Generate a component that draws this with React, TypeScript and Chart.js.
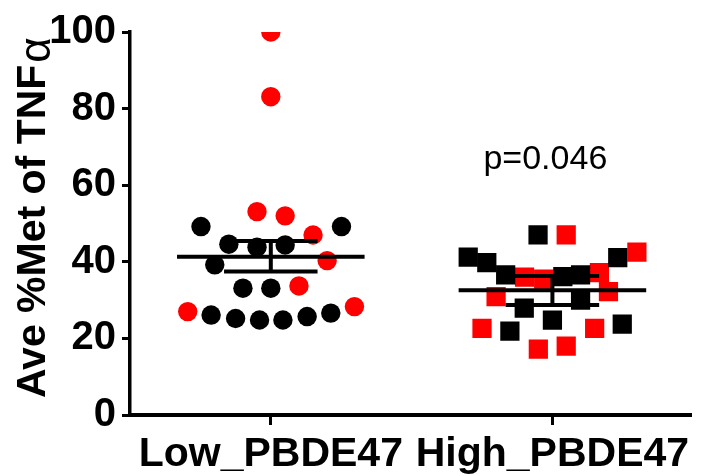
import { useEffect, useRef } from "react";
import { Chart, registerables } from "chart.js";

Chart.register(...registerables);

const categories = ["Low_PBDE47", "High_PBDE47"];
const yTickValues = [0, 20, 40, 60, 80, 100];

// Low group (circles)
const lowRedValues = [100, 83.1, 53.1, 52.0, 47.0, 40.3, 33.7, 27.0, 28.3];
const lowRedOffsets = [0, 0, -0.049, 0.051, 0.150, 0.200, 0.100, -0.295, 0.297];
const lowBlackValues = [49.2, 49.2, 44.6, 43.8, 44.4, 39.2, 33.1, 33.1, 26.1, 25.2, 24.8, 24.8, 25.7, 26.6];
const lowBlackOffsets = [-0.248, 0.251, -0.149, -0.049, 0.051, -0.199, -0.099, 0, -0.212, -0.125, -0.040, 0.043, 0.129, 0.213];

// High group (squares)
const highBlackValues = [47.0, 41.2, 39.8, 36.6, 36.1, 36.6, 41.1, 27.9, 30.0, 24.8, 21.9, 23.7];
const highBlackOffsets = [-0.051, -0.299, -0.233, -0.166, 0.037, 0.100, 0.232, -0.100, 0.100, 0, -0.151, 0.248];
const highRedValues = [47.0, 36.0, 35.5, 37.2, 42.5, 30.9, 32.2, 22.6, 22.6, 17.2, 18.0];
const highRedOffsets = [0.049, -0.099, -0.031, 0.167, 0.300, -0.200, 0.199, -0.250, 0.150, -0.050, 0.049];

// Mean and error bars per group
const groupMeans = [41.3, 32.6];
const groupUpper = [45.4, 36.3];
const groupLower = [37.5, 28.7];

const pValueText = "p=0.046";
const pValueX = 1.975;
const pValueY = 64.2;

const yTitleMain = "Ave %Met of TNF";
const yTitleSub = "α";

const FONT = "'Liberation Sans', Arial, Helvetica, sans-serif";

function toPoints(groupIndex: number, values: number[], offsets: number[]) {
  return values.map((v, i) => ({ x: groupIndex + 1 + offsets[i], y: v }));
}

const overlayPlugin = {
  id: "overlay",
  afterDatasetsDraw(chart: any) {
    const { ctx, scales } = chart;
    const xs = scales.x;
    const ys = scales.y;
    ctx.save();
    ctx.strokeStyle = "#000";
    ctx.lineWidth = 4;
    ctx.lineCap = "butt";
    groupMeans.forEach((m, i) => {
      const c = i + 1;
      const yM = ys.getPixelForValue(m);
      const yU = ys.getPixelForValue(groupUpper[i]);
      const yL = ys.getPixelForValue(groupLower[i]);
      ctx.beginPath();
      ctx.moveTo(xs.getPixelForValue(c - 0.333), yM);
      ctx.lineTo(xs.getPixelForValue(c + 0.333), yM);
      ctx.moveTo(xs.getPixelForValue(c - 0.166), yU);
      ctx.lineTo(xs.getPixelForValue(c + 0.166), yU);
      ctx.moveTo(xs.getPixelForValue(c - 0.166), yL);
      ctx.lineTo(xs.getPixelForValue(c + 0.166), yL);
      ctx.moveTo(xs.getPixelForValue(c), yU);
      ctx.lineTo(xs.getPixelForValue(c), yL);
      ctx.stroke();
    });
    ctx.restore();
  },
  afterDraw(chart: any) {
    const { ctx, scales } = chart;
    ctx.save();
    // p-value annotation
    ctx.fillStyle = "#000";
    ctx.font = `34px ${FONT}`;
    ctx.textAlign = "center";
    ctx.textBaseline = "alphabetic";
    ctx.fillText(pValueText, scales.x.getPixelForValue(pValueX), scales.y.getPixelForValue(pValueY));
    // y-axis title with subscript alpha
    ctx.translate(45, 398);
    ctx.rotate(-Math.PI / 2);
    ctx.textAlign = "left";
    ctx.font = `bold 41px ${FONT}`;
    ctx.fillText(yTitleMain, 0, 0);
    const w = ctx.measureText(yTitleMain).width;
    ctx.font = `44px ${FONT}`;
    ctx.fillText(yTitleSub, w + 2, 5);
    ctx.restore();
  },
};

export default function App() {
  const ref = useRef<HTMLCanvasElement | null>(null);
  useEffect(() => {
    document.body.style.margin = "0";
    const canvas = ref.current;
    if (!canvas) return;
    const chart = new Chart(canvas, {
      type: "scatter",
      data: {
        datasets: [
          {
            data: toPoints(0, lowBlackValues, lowBlackOffsets),
            backgroundColor: "#000000",
            pointStyle: "circle",
            pointRadius: 9.7,
            borderWidth: 0,
          },
          {
            data: toPoints(0, lowRedValues, lowRedOffsets),
            backgroundColor: "#FF0000",
            pointStyle: "circle",
            pointRadius: 9.7,
            borderWidth: 0,
          },
          {
            data: toPoints(1, highBlackValues, highBlackOffsets),
            backgroundColor: "#000000",
            pointStyle: "rect",
            pointRadius: 13.6,
            borderWidth: 0,
          },
          {
            data: toPoints(1, highRedValues, highRedOffsets),
            backgroundColor: "#FF0000",
            pointStyle: "rect",
            pointRadius: 13.6,
            borderWidth: 0,
          },
        ],
      },
      options: {
        responsive: false,
        animation: false,
        devicePixelRatio: 1,
        layout: { padding: { top: 32, right: 0, bottom: 0, left: 0 } },
        plugins: {
          legend: { display: false },
          tooltip: { enabled: false },
          title: { display: false },
        },
        scales: {
          x: {
            type: "linear",
            min: 0.5,
            max: 2.49,
            afterBuildTicks: (s: any) => {
              s.ticks = categories.map((_, i) => ({ value: i + 1 }));
            },
            afterFit: (s: any) => {
              s.height = 61;
            },
            ticks: {
              autoSkip: false,
              maxRotation: 0,
              minRotation: 0,
              padding: 5,
              color: "#000",
              font: { family: FONT, size: 41, weight: "bold" },
              callback: (v: any) => categories[Math.round(Number(v)) - 1] ?? "",
            },
            grid: {
              display: true,
              drawOnChartArea: false,
              drawTicks: true,
              tickLength: 10,
              color: "#000",
              lineWidth: 3,
            },
            border: { display: true, color: "#000", width: 4 },
          },
          y: {
            type: "linear",
            min: 0,
            max: 100,
            afterBuildTicks: (s: any) => {
              s.ticks = yTickValues.map((v) => ({ value: v }));
            },
            afterFit: (s: any) => {
              s.width = 130;
            },
            ticks: {
              padding: 6,
              color: "#000",
              font: { family: FONT, size: 40, weight: "bold" },
            },
            grid: {
              display: true,
              drawOnChartArea: false,
              drawTicks: true,
              tickLength: 8,
              color: "#000",
              lineWidth: 3,
            },
            border: { display: true, color: "#000", width: 3.5 },
          },
        },
      },
      plugins: [overlayPlugin],
    } as any);
    return () => chart.destroy();
  }, []);
  return (
    <div style={{ position: "absolute", left: 0, top: 0, width: 704, height: 476 }}>
      <canvas ref={ref} width={704} height={476} />
    </div>
  );
}
